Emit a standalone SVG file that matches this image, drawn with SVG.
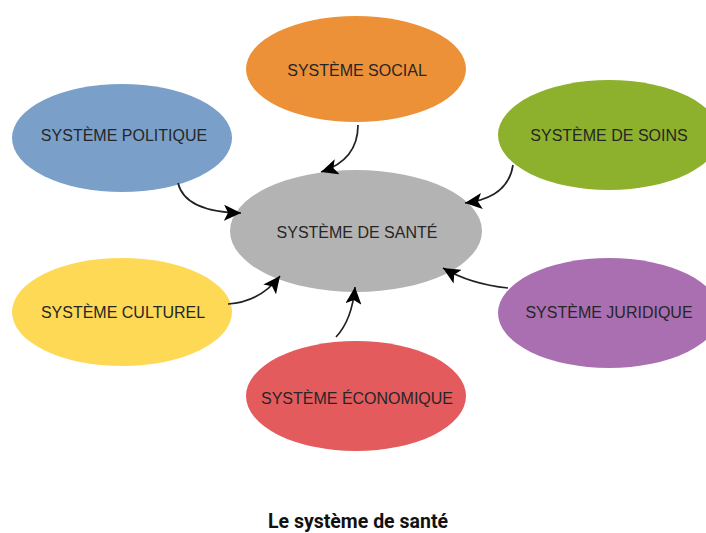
<svg xmlns="http://www.w3.org/2000/svg" width="706" height="533" viewBox="0 0 706 533">
<style>
.lbl{font-family:"Liberation Sans",Arial,sans-serif;font-size:16px;fill:#262626;text-anchor:middle;dominant-baseline:central}
.title{font-family:Roboto,"Liberation Sans",sans-serif;font-size:19.5px;font-weight:bold;fill:#111;text-anchor:middle}
.conn{fill:none;stroke:#222;stroke-width:1.7}
</style>
<defs>
<marker id="ah" markerUnits="userSpaceOnUse" markerWidth="18" markerHeight="16" refX="17" refY="8" orient="auto">
<path d="M0,0 L17,8 L0,16 L4,8 Z" fill="#000"/>
</marker>
</defs>
<rect width="706" height="533" fill="#fff"/>
<g id="sante"><ellipse cx="356" cy="231" rx="126" ry="61" fill="#b3b3b3"/><text class="lbl" x="357" y="232">SYSTÈME DE SANTÉ</text></g>
<g id="social"><ellipse cx="356" cy="69" rx="110" ry="53" fill="#ec9138"/><text class="lbl" x="357" y="70">SYSTÈME SOCIAL</text></g>
<g id="politique"><ellipse cx="122" cy="138" rx="110" ry="54" fill="#7aa0c9"/><text class="lbl" x="124" y="135">SYSTÈME POLITIQUE</text></g>
<g id="soins"><ellipse cx="609" cy="135" rx="111" ry="55" fill="#8db12c"/><text class="lbl" x="609" y="135">SYSTÈME DE SOINS</text></g>
<g id="culturel"><ellipse cx="122" cy="312" rx="110" ry="54" fill="#fdd955"/><text class="lbl" x="123" y="312">SYSTÈME CULTUREL</text></g>
<g id="juridique"><ellipse cx="609" cy="313" rx="111" ry="55" fill="#a96fb1"/><text class="lbl" x="609" y="312">SYSTÈME JURIDIQUE</text></g>
<g id="economique"><ellipse cx="356" cy="396" rx="110" ry="55" fill="#e35b5c"/><text class="lbl" x="357" y="398">SYSTÈME ÉCONOMIQUE</text></g>
<g id="connectors">
<path class="conn" marker-end="url(#ah)" d="M358,125 Q358,160 321,172"/>
<path class="conn" marker-end="url(#ah)" d="M178,183 Q185,212 241,213"/>
<path class="conn" marker-end="url(#ah)" d="M513,165 Q508,198 465,203"/>
<path class="conn" marker-end="url(#ah)" d="M228,304 Q260,302 280,276"/>
<path class="conn" marker-end="url(#ah)" d="M336,337 Q352,320 355,287"/>
<path class="conn" marker-end="url(#ah)" d="M508,288 Q470,284 443,268"/>
</g>
<text class="title" x="358" y="528">Le système de santé</text>
</svg>
